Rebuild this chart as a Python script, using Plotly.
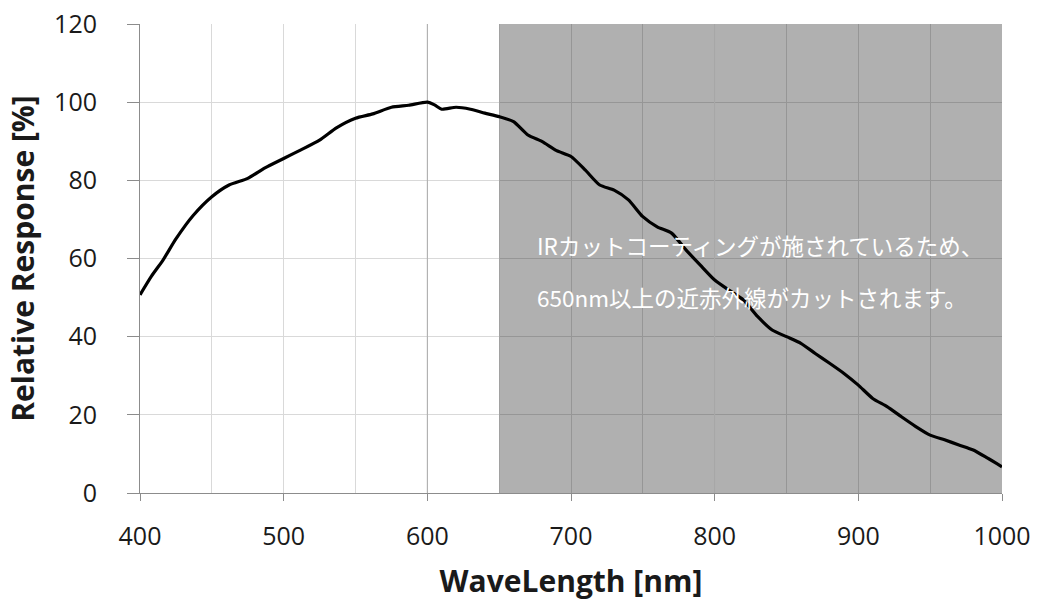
import plotly.graph_objects as go

wavelength = [400, 408, 416, 425, 437, 450, 462, 475, 487, 500, 512, 525, 537, 550, 562, 575, 587, 600, 605, 610, 620, 630, 640, 650,
              660, 670, 680, 690, 700, 710, 720, 730, 740, 750, 760, 770, 780, 790, 800, 810, 820, 830, 840, 850, 860, 870, 880,
              890, 900, 910, 920, 930, 940, 950, 960, 970, 980, 990, 1000]
response = [50.7, 55.5, 59.6, 65.0, 71.0, 75.8, 78.8, 80.5, 83.2, 85.6, 87.8, 90.3, 93.5, 95.9, 97.0, 98.7, 99.2, 100.0, 99.3, 98.2, 98.7, 98.2, 97.2, 96.3,
            95.0, 91.6, 89.9, 87.6, 86.1, 82.6, 78.8, 77.5, 75.0, 70.7, 68.1, 66.5, 62.2, 58.3, 54.5, 51.9, 49.4, 45.1, 41.7, 40.0, 38.3, 35.7, 33.2,
            30.6, 27.6, 24.2, 22.1, 19.5, 17.0, 14.8, 13.6, 12.3, 11.0, 8.9, 6.7]

x_ticks = [400, 500, 600, 700, 800, 900, 1000]
y_ticks = [0, 20, 40, 60, 80, 100, 120]
cut_start, cut_end = 650, 1000
note_lines = ["IRカットコーティングが施されているため、", "650nm以上の近赤外線がカットされます。"]
major_x = [600, 800]

fig = go.Figure()
fig.add_trace(go.Scatter(x=wavelength, y=response, mode="lines",
                         line=dict(color="black", width=3.2, shape="spline", smoothing=0.6),
                         showlegend=False, hoverinfo="skip"))

fig.add_shape(type="rect", xref="x", yref="y", x0=cut_start, x1=cut_end, y0=0, y1=120,
              fillcolor="rgba(0,0,0,0.31)", line=dict(width=0), layer="between")
for mx in major_x:
    fig.add_shape(type="line", xref="x", yref="y", x0=mx, x1=mx, y0=0, y1=120,
                  line=dict(color="#aaaaaa", width=1), layer="between")

fig.add_annotation(x=675, y=63.5, xref="x", yref="y", text=note_lines[0], showarrow=False,
                   xanchor="left", yanchor="middle",
                   font=dict(family="Noto Sans CJK JP", size=22.5, color="white"))
fig.add_annotation(x=675, y=50.2, xref="x", yref="y", text=note_lines[1], showarrow=False,
                   xanchor="left", yanchor="middle",
                   font=dict(family="Noto Sans CJK JP", size=22.5, color="white"))

fig.update_layout(
    width=1042, height=601,
    margin=dict(l=140, r=40, t=24, b=108),
    plot_bgcolor="white", paper_bgcolor="white",
    font=dict(family="Open Sans", size=25, color="#1a1a1a"),
)
fig.update_xaxes(range=[400, 1000], tickvals=x_ticks, showgrid=True, gridcolor="#d9d9d9", gridwidth=1,
                 minor=dict(dtick=50, showgrid=True, gridcolor="#d9d9d9", gridwidth=1),
                 showline=True, linecolor="#8c8c8c", linewidth=1, ticks="outside", ticklen=7, tickcolor="#8c8c8c",
                 tickfont=dict(size=25), zeroline=False, ticklabelstandoff=14, automargin=False,
                 ticklabeloverflow="allow",
                 title=dict(text="<b>WaveLength [nm]</b>", font=dict(size=30), standoff=20))
fig.update_yaxes(range=[0, 120], tickvals=y_ticks, showgrid=True, gridcolor="#d9d9d9", gridwidth=1,
                 showline=True, linecolor="#8c8c8c", linewidth=1, ticks="outside", ticklen=12, tickcolor="#8c8c8c",
                 tickfont=dict(size=25), zeroline=False, ticklabelstandoff=25, automargin=False,
                 ticklabeloverflow="allow",
                 title=dict(text="<b>Relative Response [%]</b>", font=dict(size=30), standoff=10))

fig.write_html("out.html", config={"displayModeBar": False},
               post_script="document.body.style.margin='0';")
